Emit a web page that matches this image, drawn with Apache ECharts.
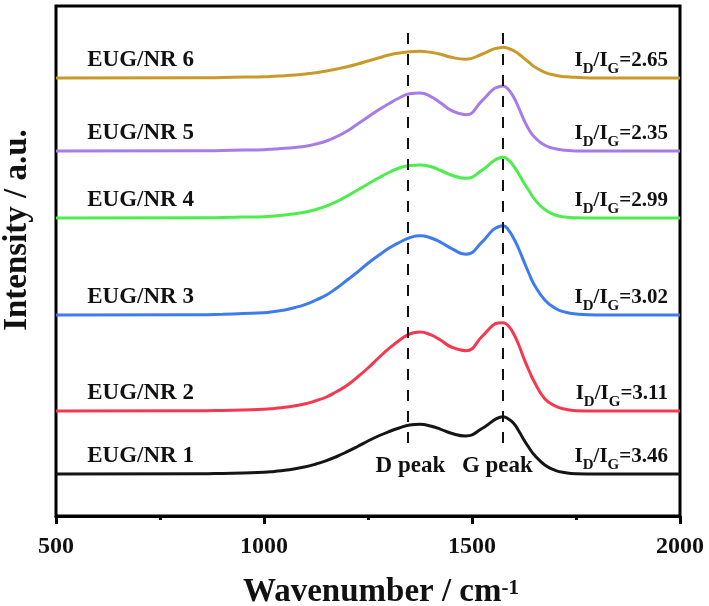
<!DOCTYPE html>
<html>
<head>
<meta charset="utf-8">
<script src="https://cdn.jsdelivr.net/npm/echarts@6/dist/echarts.min.js"></script>
<style>
  html, body { margin: 0; padding: 0; background: #fff; }
  #main { width: 709px; height: 606px; }
</style>
</head>
<body>
<div id="main"></div>
<script>
// Raman spectra of EUG/NR samples, stacked with an offset
var wavenumbers = [500, 850, 900, 950,
    1000, 1025, 1050, 1075, 1100, 1125, 1150, 1175, 1200, 1225, 1250, 1275, 1300, 1325, 1350, 1375,
    1400, 1425, 1450, 1485, 1525, 1550, 1562.5, 1575, 1587.5, 1600, 1612.5, 1625, 1637.5, 1650,
    1675, 1700, 1725, 1750, 1800, 2000];

// intensity above each curve's own baseline
var nr1 = [0, 0.2, 0.6, 1.1,
    1.7, 2.6, 3.7, 5.3, 7.3, 10, 13.3, 17.5, 22.3, 27.5, 33, 38, 42.3, 46, 49, 49.7,
    48, 44.7, 40.7, 38, 45.7, 53, 56, 57.3, 55, 50.7, 43, 34, 26, 19,
    9, 3.7, 1.3, 0.3, 0, 0];
var nr2 = [0, 0.2, 0.6, 1.1,
    1.7, 2.6, 3.7, 5.3, 7.3, 10.3, 14, 19.5, 25.7, 34, 43, 53, 62.3, 70.5, 77, 79,
    76.3, 70.7, 64, 60.3, 75, 85.7, 88, 88.3, 85, 77.3, 66, 52.3, 40, 29,
    12.3, 5, 1.7, 0.3, 0, 0];
var nr3 = [0, 0.3, 0.8, 1.5,
    2.3, 3.5, 5, 7.5, 10.7, 15, 20, 27, 35, 43, 51.7, 59.5, 66.7, 72.5, 77.3, 79.3,
    77.3, 72.7, 66.7, 60.7, 73.3, 85, 88, 89.3, 85, 76.7, 66, 53.3, 41, 30,
    15, 6.7, 2.7, 1, 0, 0];
var nr4 = [0, 0.2, 0.5, 0.9,
    1.3, 2, 3, 4.3, 6, 8.5, 12, 16.5, 22, 28, 34, 40, 45.5, 50, 52.5, 53,
    51.5, 47.5, 43, 39.7, 48, 56.5, 59.5, 60.7, 58, 52, 44, 35, 27, 19,
    8.5, 3, 1, 0.3, 0, 0];
var nr5 = [0, 0.2, 0.5, 0.9,
    1.3, 2, 2.7, 3.6, 4.7, 7, 10, 14.5, 20, 27, 34, 41, 47.3, 53, 57.3, 58,
    54.7, 48, 40.7, 36.3, 50.7, 61.3, 64, 65, 61.5, 54, 43, 31, 21, 14,
    5.7, 2.3, 0.7, 0, 0, 0];
var nr6 = [0, 0.2, 0.5, 0.9,
    1.3, 1.8, 2.3, 3, 4, 5.3, 7, 9, 11.3, 14, 17, 20, 23, 25, 26.3, 26.7,
    25.7, 23.7, 20.7, 18.8, 24, 28.7, 30, 30.7, 29.5, 27.3, 24, 19.7, 15.5, 11.3,
    5.7, 2.7, 1.3, 0.7, 0, 0];

var offsets = [42, 105, 201, 298, 365, 438];
var sampleNames = ['EUG/NR 1', 'EUG/NR 2', 'EUG/NR 3', 'EUG/NR 4', 'EUG/NR 5', 'EUG/NR 6'];
var ratios = ['3.46', '3.11', '3.02', '2.99', '2.35', '2.65'];
var colors = ['#151515', '#f5384f', '#3d7cf0', '#4ded4d', '#a67ce8', '#c99a2a'];

var peakCenters = [1345, 1575];
var peakNames = ['D peak', 'G peak'];
var xTicks = [500, 1000, 1500, 2000];

var FONT = 'Liberation Serif';
var myChart = echarts.init(document.getElementById('main'));

// I_D/I_G : main text lifted, subscripts pushed down
var ratioRich = {
    m: { fontFamily: FONT, fontWeight: 'bold', fontSize: 21, color: '#111', padding: [0, 0, 9, 0] },
    s: { fontFamily: FONT, fontWeight: 'bold', fontSize: 15, color: '#111', padding: [9, 0, 0, 0] }
};

var spectra = [nr1, nr2, nr3, nr4, nr5, nr6];
var series = spectra.map(function (h, i) {
    return {
        name: sampleNames[i],
        type: 'line',
        smooth: 0.5,
        symbol: 'none',
        silent: true,
        data: wavenumbers.map(function (x, j) { return [x, offsets[i] + h[j]]; }),
        lineStyle: { color: colors[i], width: 3 },
        markPoint: {
            symbol: 'circle',
            symbolSize: 0,
            silent: true,
            data: [
                {
                    coord: [575, offsets[i] + 18],
                    label: {
                        position: 'right', distance: 0, formatter: sampleNames[i],
                        fontFamily: FONT, fontWeight: 'bold', fontSize: 23, color: '#111'
                    }
                },
                {
                    coord: [1971, offsets[i] + 13],
                    label: {
                        position: 'left', distance: 0,
                        formatter: '{m|I}{s|D}{m|/I}{s|G}{m|=' + ratios[i] + '}',
                        rich: ratioRich
                    }
                }
            ]
        }
    };
});

// dashed guides at the D and G bands, with their names under them
series.push({
    type: 'line',
    data: [],
    silent: true,
    markLine: {
        symbol: 'none',
        silent: true,
        label: { show: false },
        lineStyle: { color: '#111', width: 2, type: [11, 10] },
        data: peakCenters.map(function (x) { return [{ coord: [x, 73] }, { coord: [x, 486] }]; })
    },
    markPoint: {
        symbol: 'circle',
        symbolSize: 0,
        silent: true,
        data: peakCenters.map(function (x, i) {
            return {
                coord: [x + (i === 0 ? 7 : -14), 50],
                label: {
                    position: 'inside', formatter: peakNames[i],
                    fontFamily: FONT, fontWeight: 'bold', fontSize: 23, color: '#111'
                }
            };
        })
    }
});

var option = {
    animation: false,
    grid: {
        left: 56, right: 29, top: 6, bottom: 90,
        containLabel: false,
        outerBoundsMode: 'none',
        show: true, borderColor: '#000', borderWidth: 3
    },
    xAxis: {
        type: 'value',
        min: xTicks[0],
        max: xTicks[xTicks.length - 1],
        interval: xTicks[1] - xTicks[0],
        name: 'Wavenumber / cm{sup|-1}',
        nameLocation: 'middle',
        nameGap: 60,
        nameTextStyle: {
            fontFamily: FONT, fontWeight: 'bold', fontSize: 33, color: '#111',
            padding: [0, 0, 0, 26],
            rich: {
                sup: { fontFamily: FONT, fontWeight: 'bold', fontSize: 21, color: '#111', verticalAlign: 'top', padding: [2, 0, 0, 0] }
            }
        },
        axisLine: { lineStyle: { color: '#000', width: 3 } },
        axisTick: { length: 8, lineStyle: { color: '#000', width: 3 } },
        minorTick: { show: true, splitNumber: 2, length: 4, lineStyle: { color: '#000', width: 3 } },
        splitLine: { show: false },
        minorSplitLine: { show: false },
        axisLabel: {
            fontFamily: FONT, fontWeight: 'bold', fontSize: 24, color: '#111', margin: 19,
            formatter: function (v) { return String(v); }
        }
    },
    yAxis: {
        type: 'value',
        min: 0,
        max: 510,
        name: 'Intensity / a.u.',
        nameLocation: 'middle',
        nameRotate: 90,
        nameGap: 22,
        nameTextStyle: {
            fontFamily: FONT, fontWeight: 'bold', fontSize: 33, color: '#111',
            padding: [0, 0, 0, 62]
        },
        axisLine: { show: false },
        axisTick: { show: false },
        axisLabel: { show: false },
        splitLine: { show: false }
    },
    series: series
};

myChart.setOption(option);
</script>
</body>
</html>
